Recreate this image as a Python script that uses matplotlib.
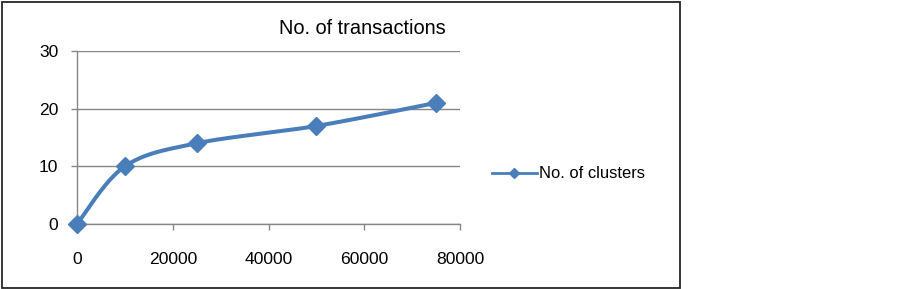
import numpy as np
import matplotlib.pyplot as plt
from matplotlib.patches import Rectangle

plt.rcParams['font.family'] = ['Liberation Sans', 'DejaVu Sans']

# data
transactions = [0, 10000, 25000, 50000, 75000]
clusters = [0, 10, 14, 17, 21]
x_ticks = [0, 20000, 40000, 60000, 80000]
y_ticks = [0, 10, 20, 30]

W, H = 900, 289
fig = plt.figure(figsize=(W / 100, H / 100), dpi=100)
ax = fig.add_axes([77 / W, (H - 224) / H, (460 - 77) / W, (224 - 51) / H])

# Excel-like smoothed line (cardinal bezier), built in pixel space
pw, ph = 460 - 77, 224 - 51
P = np.column_stack([np.array(transactions) / 80000 * pw, np.array(clusters) / 30 * ph])
n = len(P)
xs, ys = [], []
t = np.linspace(0, 1, 40)
for i in range(n - 1):
    p0 = P[max(i - 1, 0)]
    p1, p2 = P[i], P[i + 1]
    p3 = P[min(i + 2, n - 1)]
    c1 = p1 + (p2 - p0) / 6
    c2 = p2 - (p3 - p1) / 6
    seg = ((1 - t)[:, None] ** 3 * p1 + 3 * ((1 - t) ** 2 * t)[:, None] * c1
           + 3 * ((1 - t) * t ** 2)[:, None] * c2 + (t ** 3)[:, None] * p2)
    xs.extend(seg[:, 0] / pw * 80000)
    ys.extend(seg[:, 1] / ph * 30)

blue = '#4A7EBB'
ax.plot(xs, ys, color=blue, lw=2.9, solid_capstyle='round', zorder=3, clip_on=False)
ax.plot(transactions, clusters, ls='none', marker='D', ms=9.5, color=blue, zorder=4, clip_on=False)
ax.plot([], [], color=blue, lw=2, marker='D', ms=5, label='No. of clusters')

ax.set_xlim(0, 80000)
ax.set_ylim(0, 30)
ax.set_xticks(x_ticks)
ax.set_yticks(y_ticks)
ax.grid(axis='y', color='#868686', lw=1)
ax.set_axisbelow(True)
for s in ['top', 'right']:
    ax.spines[s].set_visible(False)
for s in ['left', 'bottom']:
    ax.spines[s].set_color('#868686')
    ax.spines[s].set_linewidth(1)
ax.tick_params(axis='both', colors='#868686', labelcolor='black', labelsize=12.6, length=4.5, width=1)
ax.tick_params(axis='y', pad=9)
ax.tick_params(axis='x', pad=15.5)

fig.text(362 / W, (H - 28) / H, 'No. of transactions', fontsize=14.4, ha='center', va='center')

fig.legend(loc='center left', bbox_to_anchor=(492 / W, (H - 174) / H), frameon=False,
           fontsize=11.9, handlelength=2.7, handletextpad=0.15, borderaxespad=0, borderpad=0)

fig.patches.append(Rectangle((1.5 / W, 1.5 / H), (680 - 1.5) / W, (287 - 1.5) / H,
                             transform=fig.transFigure, fill=False, edgecolor='#262626', lw=1.3))

fig.savefig('out.png', dpi=100)
